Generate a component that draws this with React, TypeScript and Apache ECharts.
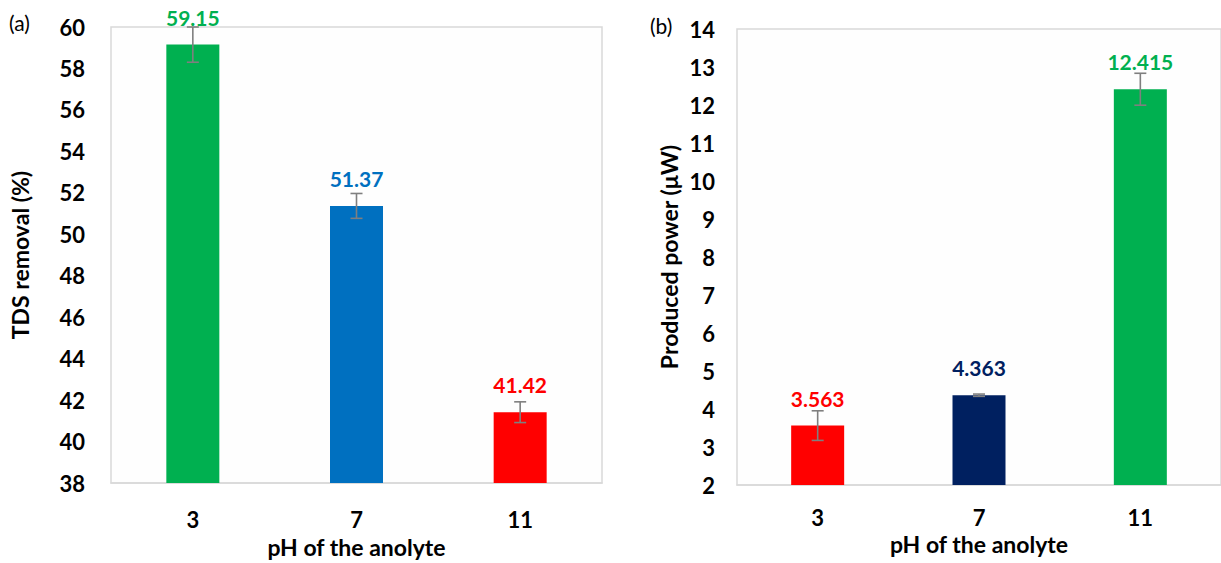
import React, { useEffect, useRef } from "react";
import * as echarts from "echarts";

const categories = ["3", "7", "11"];
const tdsRemoval = [59.15, 51.37, 41.42];
const tdsError = [0.85, 0.6, 0.5];
const tdsColors = ["#00b050", "#0070c0", "#ff0000"];
const power = [3.563, 4.363, 12.415];
const powerError = [0.39, 0.03, 0.42];
const powerColors = ["#ff0000", "#002060", "#00b050"];

const FONT = "Lato, 'Open Sans', sans-serif";

function errorSeries(values: number[], errors: number[], axisIndex: number) {
  return {
    type: "custom",
    xAxisIndex: axisIndex,
    yAxisIndex: axisIndex,
    z: 5,
    silent: true,
    data: values.map((v, i) => [i, v - errors[i], v + errors[i]]),
    renderItem: (params: any, api: any) => {
      const x = api.value(0);
      const lo = api.coord([x, api.value(1)]);
      const hi = api.coord([x, api.value(2)]);
      const hw = 6;
      const style = { stroke: "#7f7f7f", lineWidth: 1.6 };
      return {
        type: "group",
        children: [
          { type: "line", shape: { x1: hi[0], y1: hi[1], x2: lo[0], y2: lo[1] }, style },
          { type: "line", shape: { x1: hi[0] - hw, y1: hi[1], x2: hi[0] + hw, y2: hi[1] }, style },
          { type: "line", shape: { x1: lo[0] - hw, y1: lo[1], x2: lo[0] + hw, y2: lo[1] }, style },
        ],
      };
    },
  };
}

function barSeries(values: number[], colors: string[], axisIndex: number) {
  return {
    type: "bar",
    xAxisIndex: axisIndex,
    yAxisIndex: axisIndex,
    barWidth: 53,
    data: values.map((v, i) => ({
      value: v,
      itemStyle: { color: colors[i] },
      label: { color: colors[i] },
    })),
    label: {
      show: true,
      position: "top",
      distance: 17,
      fontFamily: FONT,
      fontWeight: "bold",
      fontSize: 21,
    },
  };
}

const axisLabelStyle = {
  fontFamily: FONT,
  fontWeight: "bold",
  fontSize: 22,
  color: "#000",
};
const nameStyle = {
  fontFamily: FONT,
  fontWeight: "bold",
  fontSize: 23,
  color: "#000",
};

export default function App() {
  const ref = useRef<HTMLDivElement>(null);
  useEffect(() => {
    if (!ref.current) return;
    const chart = echarts.init(ref.current, null, { renderer: "svg" });
    chart.setOption({
      animation: false,
      backgroundColor: "#ffffff",
      grid: [
        { left: 111, top: 27, width: 491, height: 470, show: true, borderColor: "#d9d9d9", borderWidth: 1.5, backgroundColor: "#fefefe" },
        { left: 737, top: 29, width: 491, height: 456, show: true, borderColor: "#d9d9d9", borderWidth: 1.5, backgroundColor: "#fefefe" },
      ],
      xAxis: [0, 1].map((g) => ({
        type: "category",
        gridIndex: g,
        data: categories,
        axisLine: { show: true, lineStyle: { color: "#d9d9d9", width: 1.5 } },
        axisTick: { show: false },
        axisLabel: { ...axisLabelStyle, margin: g === 0 ? 25 : 21 },
        name: "pH of the anolyte",
        nameLocation: "middle",
        nameGap: g === 0 ? 43 : 47,
        nameTextStyle: nameStyle,
      })),
      yAxis: [
        {
          type: "value",
          gridIndex: 0,
          min: 38,
          max: 60,
          interval: 2,
          axisLine: { show: false },
          axisTick: { show: false },
          splitLine: { show: false },
          axisLabel: { ...axisLabelStyle, margin: 26 },
          name: "TDS removal (%)",
          nameLocation: "middle",
          nameGap: 80,
          nameTextStyle: nameStyle,
        },
        {
          type: "value",
          gridIndex: 1,
          min: 2,
          max: 14,
          interval: 1,
          axisLine: { show: false },
          axisTick: { show: false },
          splitLine: { show: false },
          axisLabel: { ...axisLabelStyle, margin: 22 },
          name: "Produced power (μW)",
          nameLocation: "middle",
          nameGap: 57,
          nameTextStyle: nameStyle,
        },
      ],
      graphic: [
        { type: "text", left: 9, top: 12, style: { text: "(a)", font: `21px ${FONT}`, fill: "#000" } },
        { type: "text", left: 650, top: 15, style: { text: "(b)", font: `21px ${FONT}`, fill: "#000" } },
      ],
      series: [
        barSeries(tdsRemoval, tdsColors, 0),
        errorSeries(tdsRemoval, tdsError, 0),
        barSeries(power, powerColors, 1),
        errorSeries(power, powerError, 1),
      ],
    });
    return () => chart.dispose();
  }, []);
  return (
    <div
      ref={ref}
      style={{ position: "absolute", left: 0, top: 0, width: 1221, height: 563 }}
    />
  );
}
